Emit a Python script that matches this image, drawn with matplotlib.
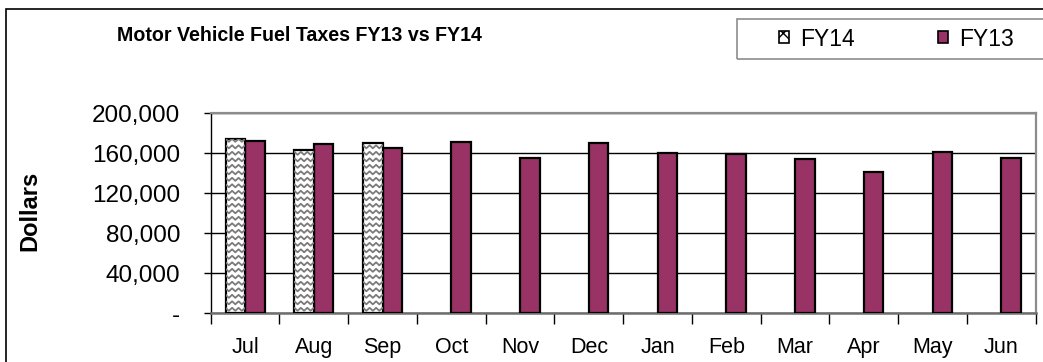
import numpy as np
import matplotlib
matplotlib.use("Agg")
import matplotlib.pyplot as plt
from matplotlib.patches import Patch, Rectangle
from matplotlib.ticker import FuncFormatter, MultipleLocator

plt.rcParams["font.family"] = ["Liberation Sans", "DejaVu Sans"]

months = ["Jul", "Aug", "Sep", "Oct", "Nov", "Dec",
          "Jan", "Feb", "Mar", "Apr", "May", "Jun"]
fy14 = [174300, 163000, 170700]
fy13 = [172000, 169000, 165700, 171000, 155000, 170700,
        160300, 159000, 154000, 141000, 161700, 155000]

PLUM = "#993366"
BW = 0.283   # bar width in category units

fig = plt.figure(figsize=(10.43, 3.62), dpi=100)
ax = fig.add_axes([0.202, 0.1345, 0.791, 0.5525])

x = np.arange(len(months))
x14 = x[:len(fy14)]

b13 = ax.bar(x + BW / 2, fy13, BW, color=PLUM, edgecolor="black", lw=1.6, zorder=3)
b14 = ax.bar(x14 - BW / 2, fy14, BW, color="white", edgecolor="black", lw=1.6, zorder=3)

# zigzag fill for the FY14 bars, clipped to each bar
for rect in b14:
    x0, w, h = rect.get_x(), rect.get_width(), rect.get_height()
    xs = np.linspace(x0 - w / 6, x0 + w + w / 6, 9)
    amp = np.tile([0.0, 3000.0], 5)[:len(xs)]
    for y0 in np.arange(-4000, h + 6500, 6500):
        ln, = ax.plot(xs, y0 + amp, color="#7a7a7a", lw=1.3, zorder=3.5)
        ln.set_clip_path(rect)

ax.set_xlim(-0.5, len(months) - 0.5)
ax.set_ylim(0, 200000)
ax.yaxis.set_major_locator(MultipleLocator(40000))
ax.yaxis.set_major_formatter(FuncFormatter(lambda v, p: "-" if v == 0 else f"{v:,.0f}"))
ax.grid(axis="y", color="black", lw=1.0, zorder=0)
ax.set_axisbelow(True)

ax.set_xticks(x)
ax.set_xticklabels(months)
ax.set_xticks(np.arange(-0.5, len(months)), minor=True)
ax.tick_params(axis="x", which="major", length=0, pad=17, labelsize=15.5)
ax.tick_params(axis="x", which="minor", length=8, width=1, color="black", direction="out")
ax.tick_params(axis="y", length=5, width=1, color="black", direction="out", pad=17,
               labelsize=17.5)

for s in ("top", "right"):
    ax.spines[s].set_color("#8c8c8c")
    ax.spines[s].set_linewidth(1.6)
ax.spines["bottom"].set_color("#6e6e6e")
ax.spines["bottom"].set_linewidth(1.8)
ax.spines["left"].set_color("black")
ax.spines["left"].set_linewidth(1.0)

ax.set_ylabel("Dollars", fontsize=17, fontweight="bold")
ax.yaxis.set_label_coords(-0.205, 0.51)

fig.text(0.287, 0.903, "Motor Vehicle Fuel Taxes FY13 vs FY14", ha="center", va="center",
         fontsize=14.1, fontweight="bold")

# chart frame, running off the right and bottom edges
fig.patches.append(Rectangle((0.0062, -0.1), 1.2, 0.1 + 0.975, transform=fig.transFigure,
                             fill=False, edgecolor="black", lw=1.2))

# legend box, open on the right
fig.patches.append(Rectangle((737 / 1043, 1 - 59 / 362), 0.4, 40 / 362,
                             transform=fig.transFigure, fill=False,
                             edgecolor="#8c8c8c", lw=1.2))
handles = [Patch(facecolor="white", edgecolor="black", hatch="xx", lw=1.2, label="FY14"),
           Patch(facecolor=PLUM, edgecolor="black", lw=1.2, label="FY13")]
fig.legend(handles=handles, loc="center left", ncol=2,
           bbox_to_anchor=(779 / 1043, 1 - 39 / 362),
           fontsize=16.5, handlelength=0.42, handleheight=0.42, handletextpad=0.5,
           columnspacing=3.65, borderpad=0.0, borderaxespad=0.0, frameon=False)

fig.savefig("out.png", dpi=100)
